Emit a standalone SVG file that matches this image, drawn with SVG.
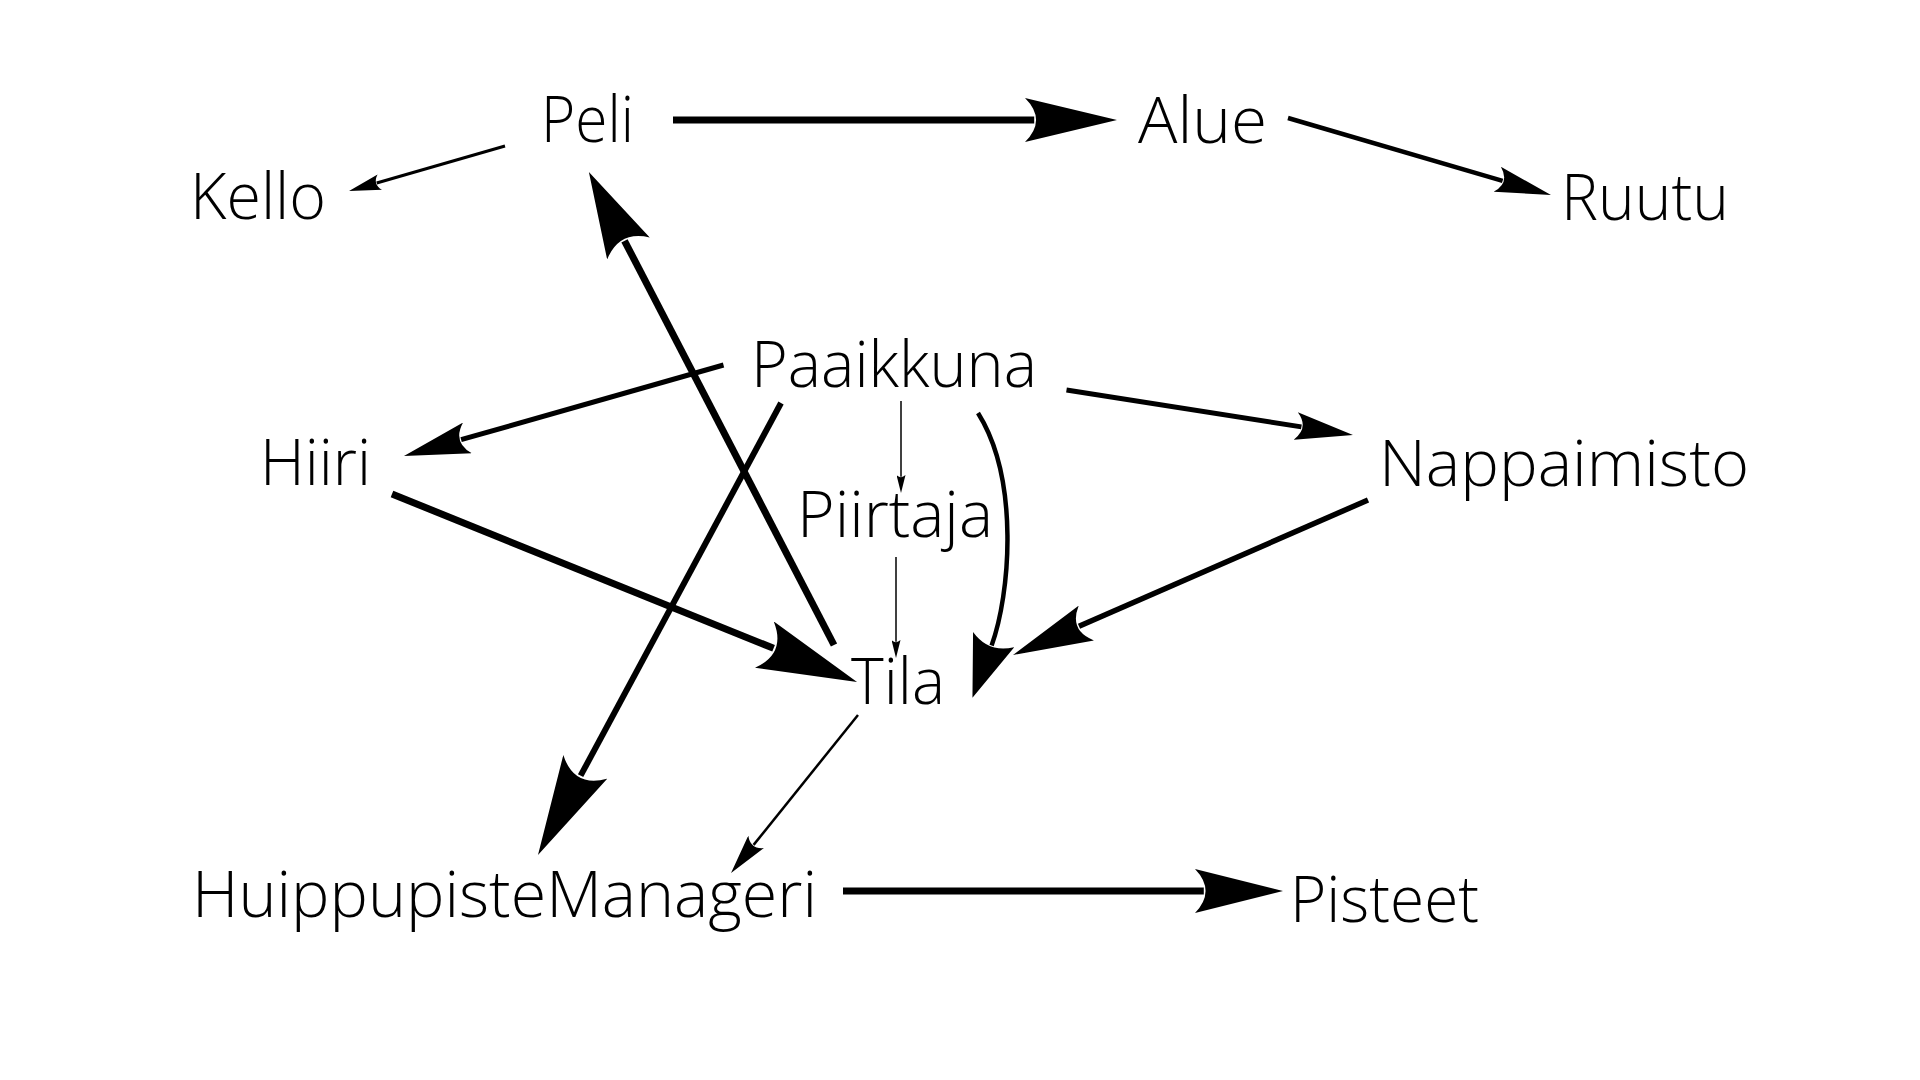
<svg xmlns="http://www.w3.org/2000/svg" width="1920" height="1080" viewBox="0 0 1920 1080">
<style>
  .lbl { font-family: "Open Sans", "Segoe UI", "Liberation Sans", sans-serif; font-weight: 300; font-size: 65px; fill: #000; }
  .e { fill: none; stroke: #000; stroke-linecap: butt; }
  .ah { fill: #000; }
</style>
<defs>
  <path id="ahp" d="M100,50 L0,100 Q24,50 0,0 Z"/>
  <marker id="m-peli-alue" markerUnits="userSpaceOnUse" viewBox="0 0 100 100" preserveAspectRatio="none" markerWidth="92" markerHeight="44" refX="10" refY="50" orient="auto"><use href="#ahp" class="ah"/></marker>
  <marker id="m-peli-kello" markerUnits="userSpaceOnUse" viewBox="0 0 100 100" preserveAspectRatio="none" markerWidth="32" markerHeight="16" refX="10" refY="50" orient="auto"><use href="#ahp" class="ah"/></marker>
  <marker id="m-alue-ruutu" markerUnits="userSpaceOnUse" viewBox="0 0 100 100" preserveAspectRatio="none" markerWidth="56" markerHeight="26" refX="10" refY="50" orient="auto"><use href="#ahp" class="ah"/></marker>
  <marker id="m-tila-peli" markerUnits="userSpaceOnUse" viewBox="0 0 100 100" preserveAspectRatio="none" markerWidth="86" markerHeight="48" refX="10" refY="50" orient="auto"><use href="#ahp" class="ah"/></marker>
  <marker id="m-paa-hiiri" markerUnits="userSpaceOnUse" viewBox="0 0 100 100" preserveAspectRatio="none" markerWidth="66" markerHeight="32" refX="10" refY="50" orient="auto"><use href="#ahp" class="ah"/></marker>
  <marker id="m-small" markerUnits="userSpaceOnUse" viewBox="0 0 100 100" preserveAspectRatio="none" markerWidth="18" markerHeight="9" refX="10" refY="50" orient="auto"><use href="#ahp" class="ah"/></marker>
  <marker id="m-paa-napp" markerUnits="userSpaceOnUse" viewBox="0 0 100 100" preserveAspectRatio="none" markerWidth="58" markerHeight="28" refX="10" refY="50" orient="auto"><use href="#ahp" class="ah"/></marker>
  <marker id="m-paa-tila" markerUnits="userSpaceOnUse" viewBox="0 0 100 100" preserveAspectRatio="none" markerWidth="62" markerHeight="44" refX="10" refY="50" orient="auto"><use href="#ahp" class="ah"/></marker>
  <marker id="m-napp-tila" markerUnits="userSpaceOnUse" viewBox="0 0 100 100" preserveAspectRatio="none" markerWidth="80" markerHeight="38" refX="10" refY="50" orient="auto"><use href="#ahp" class="ah"/></marker>
  <marker id="m-big" markerUnits="userSpaceOnUse" viewBox="0 0 100 100" preserveAspectRatio="none" markerWidth="100" markerHeight="50" refX="10" refY="50" orient="auto"><use href="#ahp" class="ah"/></marker>
  <marker id="m-tila-huippu" markerUnits="userSpaceOnUse" viewBox="0 0 100 100" preserveAspectRatio="none" markerWidth="40" markerHeight="20" refX="10" refY="50" orient="auto"><use href="#ahp" class="ah"/></marker>
  <marker id="m-huippu-pisteet" markerUnits="userSpaceOnUse" viewBox="0 0 100 100" preserveAspectRatio="none" markerWidth="88" markerHeight="44" refX="10" refY="50" orient="auto"><use href="#ahp" class="ah"/></marker>
</defs>
<rect width="1920" height="1080" fill="#fff"/>
<g id="connectors">
  <path id="e-peli-alue" class="e" stroke-width="7" d="M673,120 L1034.2,120" marker-end="url(#m-peli-alue)"/>
  <path id="e-peli-kello" class="e" stroke-width="3" d="M505,146 L376.7,183" marker-end="url(#m-peli-kello)"/>
  <path id="e-alue-ruutu" class="e" stroke-width="4.5" d="M1288,118 L1502.6,180.8" marker-end="url(#m-alue-ruutu)"/>
  <path id="e-tila-peli" class="e" stroke-width="7" d="M834,645 L624.5,240.8" marker-end="url(#m-tila-peli)"/>
  <path id="e-paa-hiiri" class="e" stroke-width="5" d="M723.5,365 L461.1,439.7" marker-end="url(#m-paa-hiiri)"/>
  <path id="e-paa-piirtaja" class="e" stroke-width="1.5" d="M901,401 L901,476.8" marker-end="url(#m-small)"/>
  <path id="e-paa-napp" class="e" stroke-width="5" d="M1066.5,390 L1301.4,426.9" marker-end="url(#m-paa-napp)"/>
  <path id="e-paa-tila" class="e" stroke-width="4.5" d="M978,413 C1020,480 1010,595 991.6,645.4" marker-end="url(#m-paa-tila)"/>
  <path id="e-napp-tila" class="e" stroke-width="5.5" d="M1368,500 L1079,626.2" marker-end="url(#m-napp-tila)"/>
  <path id="e-hiiri-tila" class="e" stroke-width="7" d="M392,494 L773.6,648.3" marker-end="url(#m-big)"/>
  <path id="e-paa-huippu" class="e" stroke-width="6" d="M781,403 L580.6,775.7" marker-end="url(#m-big)"/>
  <path id="e-piirtaja-tila" class="e" stroke-width="1.5" d="M896,557 L896,641.8" marker-end="url(#m-small)"/>
  <path id="e-tila-huippu" class="e" stroke-width="2.5" d="M858,715 L753.6,844.9" marker-end="url(#m-tila-huippu)"/>
  <path id="e-huippu-pisteet" class="e" stroke-width="7" d="M843,891 L1203.8,891" marker-end="url(#m-huippu-pisteet)"/>
</g>
<g id="node-peli"><text class="lbl" x="541" y="142" textLength="93" lengthAdjust="spacingAndGlyphs">Peli</text></g>
<g id="node-kello"><text class="lbl" x="190" y="219" textLength="136" lengthAdjust="spacingAndGlyphs">Kello</text></g>
<g id="node-alue"><text class="lbl" x="1138" y="143" textLength="129" lengthAdjust="spacingAndGlyphs">Alue</text></g>
<g id="node-ruutu"><text class="lbl" x="1561" y="220" textLength="168" lengthAdjust="spacingAndGlyphs">Ruutu</text></g>
<g id="node-paaikkuna"><text class="lbl" x="751" y="387" textLength="286" lengthAdjust="spacingAndGlyphs">Paaikkuna</text></g>
<g id="node-hiiri"><text class="lbl" x="260" y="485" textLength="111" lengthAdjust="spacingAndGlyphs">Hiiri</text></g>
<g id="node-piirtaja"><text class="lbl" x="797" y="537" textLength="196" lengthAdjust="spacingAndGlyphs">Piirtaja</text></g>
<g id="node-nappaimisto"><text class="lbl" x="1379" y="486" textLength="370" lengthAdjust="spacingAndGlyphs">Nappaimisto</text></g>
<g id="node-tila"><text class="lbl" x="851" y="704" textLength="94" lengthAdjust="spacingAndGlyphs">Tila</text></g>
<g id="node-huippupistemanageri"><text class="lbl" x="192" y="917" textLength="625" lengthAdjust="spacingAndGlyphs">HuippupisteManageri</text></g>
<g id="node-pisteet"><text class="lbl" x="1290" y="922" textLength="189" lengthAdjust="spacingAndGlyphs">Pisteet</text></g>
</svg>
